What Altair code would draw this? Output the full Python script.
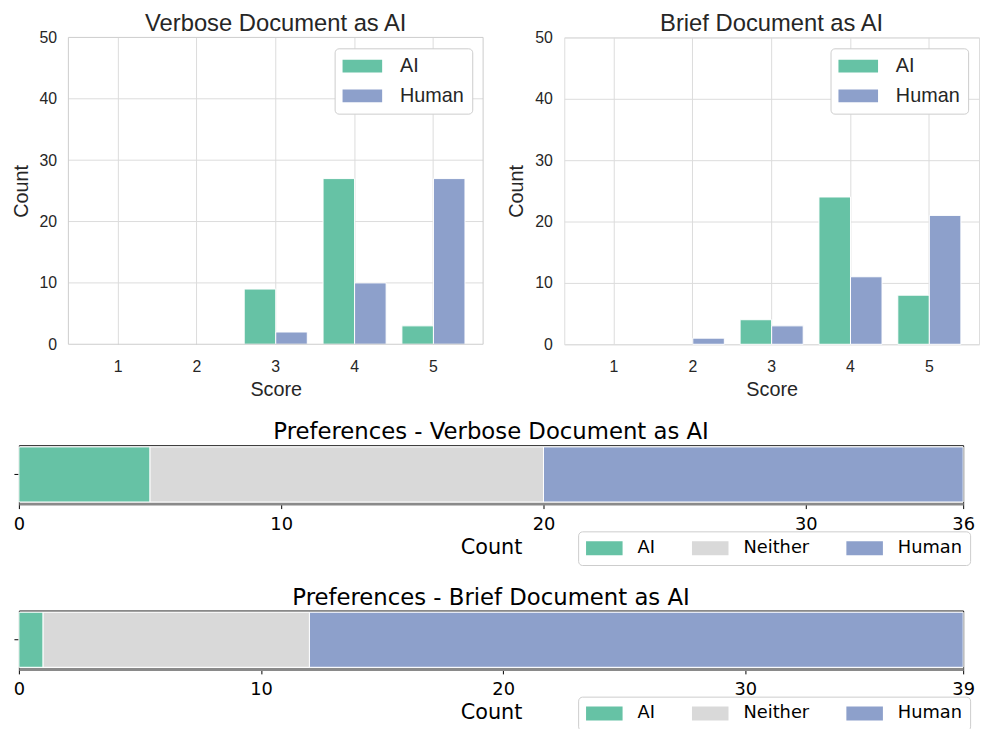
import altair as alt
import pandas as pd

# ---- data ----
scores = [1, 2, 3, 4, 5]
sources = ["AI", "Human"]
verbose_ai = [0, 0, 9, 27, 3]
verbose_human = [0, 0, 2, 10, 27]
brief_ai = [0, 0, 4, 24, 8]
brief_human = [0, 1, 3, 11, 21]
count_ticks = [0, 10, 20, 30, 40, 50]

pref_choices = ["AI", "Neither", "Human"]
pref_verbose = [5, 15, 16]
pref_brief = [1, 11, 27]

score_colors = ["#66c2a5", "#8da0cb"]
pref_colors = ["#66c2a5", "#d9d9d9", "#8da0cb"]

TOPFONT = "Liberation Sans"
BOTFONT = "DejaVu Sans"
DARK = "#262626"
GRID = "#dcdcdc"
PW, PH = 419, 310


def score_chart(title, ai, human, lead=0):
    """lead > 0: plot area is widened by `lead` px on the left and the
    axes are drawn inside it, so the visible frame starts `lead` px in."""
    W = PW + lead
    df = pd.DataFrame({
        "Score": scores + scores,
        "Source": ["AI"] * len(scores) + ["Human"] * len(scores),
        "Count": ai + human,
    })
    xscale = alt.Scale(domain=scores, paddingInner=0.2, paddingOuter=0.23)
    if lead:
        xscale = alt.Scale(domain=scores, paddingInner=0.2, paddingOuter=0.23,
                           range=[lead, W])
    yaxis = dict(title="Count", values=count_ticks, grid=(lead == 0),
                 ticks=False, domain=False, gridColor=GRID,
                 labelFont=TOPFONT, labelFontSize=16, labelColor=DARK,
                 labelPadding=12, titleFont=TOPFONT, titleFontSize=20,
                 titleColor=DARK, titleFontWeight="normal", titlePadding=8)
    if lead:
        yaxis["offset"] = -lead
    xaxis = dict(title="Score", labelAngle=0, grid=True, ticks=False,
                 domain=False, bandPosition=0.5, gridColor=GRID,
                 labelFont=TOPFONT, labelFontSize=16, labelColor=DARK,
                 labelPadding=15, titleFont=TOPFONT, titleFontSize=20,
                 titleColor=DARK, titleFontWeight="normal", titlePadding=5)
    if lead:
        xaxis["titleX"] = lead + PW / 2
    yscale = alt.Scale(domain=[0, 50], nice=False)
    bars = alt.Chart(df).transform_filter("datum.Count > 0").mark_bar(
        stroke="white", strokeWidth=1
    ).encode(
        x=alt.X("Score:O", scale=xscale, axis=alt.Axis(**xaxis)),
        xOffset=alt.XOffset("Source:N",
                            scale=alt.Scale(domain=sources, paddingInner=0, paddingOuter=0)),
        y=alt.Y("Count:Q", scale=yscale, axis=alt.Axis(**yaxis)),
        color=alt.Color("Source:N",
                        scale=alt.Scale(domain=sources, range=score_colors),
                        legend=alt.Legend(title=None, orient="top-right", offset=11,
                                          fillColor="white", strokeColor="#cccccc",
                                          cornerRadius=4, padding=8,
                                          labelFont=TOPFONT, labelFontSize=20,
                                          labelColor=DARK,
                                          symbolType="M-1,-0.65H3V0.65H-1Z",
                                          symbolSize=400, symbolStrokeWidth=0,
                                          symbolOpacity=1, labelOffset=38,
                                          rowPadding=10)),
    )
    ttl = alt.Title(title, font=TOPFONT, fontSize=24, color=DARK,
                    fontWeight="normal", offset=-7, dx=lead / 2)
    if not lead:
        return bars.properties(width=W, height=PH, title=ttl)
    grid = alt.Chart(pd.DataFrame({"Count": count_ticks[1:-1]})).mark_rule(
        color=GRID, strokeWidth=1
    ).encode(
        y=alt.Y("Count:Q", scale=yscale, axis=alt.Axis(**yaxis)),
        x=alt.value(lead), x2=alt.value(W),
    )
    frame = alt.Chart(pd.DataFrame({"f": [0]})).mark_rect(
        fillOpacity=0, stroke="#cccccc", strokeWidth=1
    ).encode(x=alt.value(lead), x2=alt.value(W), y=alt.value(0), y2=alt.value(PH))
    return alt.layer(grid, bars, frame).properties(
        width=W, height=PH, title=ttl,
        view=alt.ViewBackground(stroke="transparent"))


def pref_chart(title, vals):
    total = sum(vals)
    df = pd.DataFrame({
        "Choice": pref_choices,
        "Count": vals,
        "order": list(range(len(pref_choices))),
        "row": ["pref"] * len(pref_choices),
    })
    return alt.Chart(df, title=alt.Title(
        title, font=BOTFONT, fontSize=23, color="black", fontWeight="normal", offset=1)
    ).mark_bar(stroke="white", strokeWidth=1).encode(
        x=alt.X("Count:Q", stack="zero",
                scale=alt.Scale(domain=[0, total], nice=False),
                axis=alt.Axis(title="Count", values=[0, 10, 20, 30, total], grid=False,
                              ticks=True, tickSize=5, tickColor="black",
                              domain=True, domainColor="#8a8a8a", domainWidth=3,
                              labelFont=BOTFONT, labelFontSize=18, labelColor="black",
                              labelPadding=7, labelFlush=False,
                              titleFont=BOTFONT, titleFontSize=21, titleColor="black",
                              titleFontWeight="normal", titlePadding=3, zindex=1)),
        y=alt.Y("row:N",
                scale=alt.Scale(paddingInner=0, paddingOuter=0.03),
                axis=alt.Axis(title=None, labels=False, domain=False, ticks=True,
                              tickSize=5, tickColor="black", grid=False,
                              minExtent=0, maxExtent=5)),
        color=alt.Color("Choice:N",
                        scale=alt.Scale(domain=pref_choices, range=pref_colors),
                        legend=alt.Legend(title=None, orient="none", legendX=565, legendY=87,
                                          direction="horizontal", columns=3,
                                          fillColor="white", strokeColor="#cccccc",
                                          cornerRadius=4, padding=8,
                                          labelFont=BOTFONT, labelFontSize=18,
                                          labelColor="black",
                                          symbolType="M-1,-0.78H3.1V0.78H-1Z",
                                          symbolSize=324, symbolStrokeWidth=0,
                                          symbolOpacity=1, labelOffset=34,
                                          columnPadding=37)),
        order=alt.Order("order:Q"),
    ).properties(width=954, height=59,
                 view=alt.ViewBackground(stroke="black", strokeWidth=1))


top = alt.hconcat(
    score_chart("Verbose Document as AI", verbose_ai, verbose_human, lead=50),
    score_chart("Brief Document as AI", brief_ai, brief_human),
    spacing=22,
).resolve_scale(color="independent").resolve_legend(color="independent")

b1 = pref_chart("Preferences - Verbose Document as AI", pref_verbose)
b2 = pref_chart("Preferences - Brief Document as AI", pref_brief)

chart = alt.vconcat(top, b1, b2, spacing=20).resolve_scale(
    color="independent"
).resolve_legend(color="independent").properties(
    padding={"left": 2, "top": 0, "right": 0, "bottom": 0}
).configure_view(stroke="#cccccc", strokeWidth=1).configure(background="white")

chart.save("out.html", embed_options={"renderer": "svg", "actions": False})
